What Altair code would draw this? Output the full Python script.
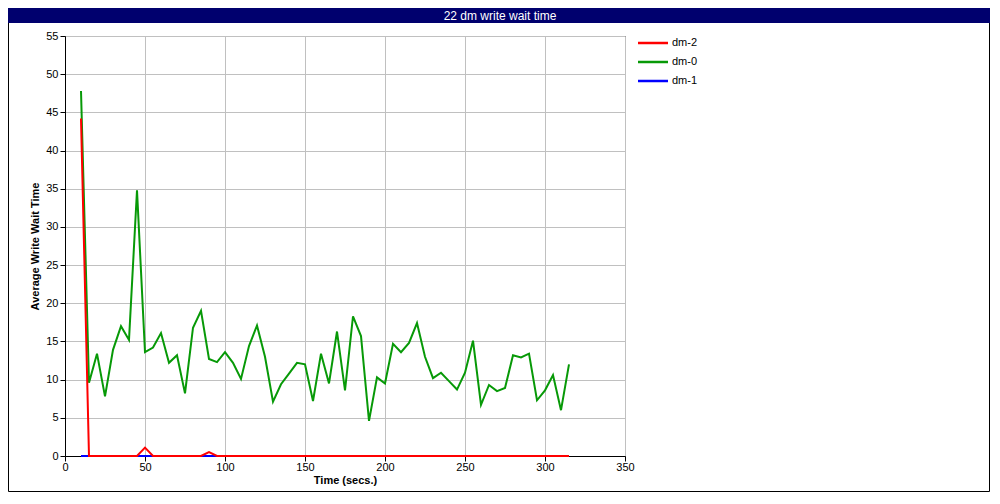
import altair as alt
import pandas as pd

times = [10, 15, 20, 25, 30, 35, 40, 45, 50, 55, 60, 65, 70, 75, 80, 85, 90, 95,
         100, 105, 110, 115, 120, 125, 130, 135, 140, 145, 150, 155, 160, 165,
         170, 175, 180, 185, 190, 195, 200, 205, 210, 215, 220, 225, 230, 235,
         240, 245, 250, 255, 260, 265, 270, 275, 280, 285, 290, 295, 300, 305,
         310, 315]

dm0 = [47.8, 9.6, 13.4, 7.8, 13.9, 17.0, 15.2, 34.8, 13.6, 14.2, 16.1, 12.2,
       13.2, 8.2, 16.8, 19.0, 12.7, 12.3, 13.6, 12.2, 10.1, 14.4, 17.1, 13.0,
       7.1, 9.4, 10.8, 12.2, 12.0, 7.2, 13.4, 9.5, 16.3, 8.6, 18.3, 15.7,
       4.6, 10.3, 9.5, 14.7, 13.6, 14.8, 17.4, 13.0, 10.2, 10.9, 9.8, 8.7,
       10.9, 15.1, 6.7, 9.3, 8.5, 8.9, 13.2, 12.9, 13.4, 7.3, 8.6, 10.6,
       6.0, 12.0]

dm2 = [44.2, 0, 0, 0, 0, 0, 0, 0, 1.1, 0, 0, 0, 0, 0, 0, 0, 0.5, 0,
       0, 0, 0, 0, 0, 0, 0, 0, 0, 0, 0, 0, 0, 0, 0, 0, 0, 0,
       0, 0, 0, 0, 0, 0, 0, 0, 0, 0, 0, 0, 0, 0, 0, 0, 0, 0,
       0, 0, 0, 0, 0, 0, 0, 0]

dm1 = [0, 0, 0, 0, 0, 0, 0, 0, 0, 0, 0, 0, 0, 0, 0, 0, 0, 0,
       0, 0, 0, 0, 0, 0, 0, 0, 0, 0, 0, 0, 0, 0, 0, 0, 0, 0,
       0, 0, 0, 0, 0, 0, 0, 0, 0, 0, 0, 0, 0, 0, 0, 0, 0, 0,
       0, 0, 0, 0, 0, 0, 0, 0]

series_order = ["dm-2", "dm-0", "dm-1"]
series_colors = ["#ff0000", "#079907", "#0000ff"]
x_ticks = [0, 50, 100, 150, 200, 250, 300, 350]
y_ticks = [0, 5, 10, 15, 20, 25, 30, 35, 40, 45, 50, 55]
chart_title = "22 dm write wait time"

rows = []
for name, vals in [("dm-1", dm1), ("dm-0", dm0), ("dm-2", dm2)]:
    for t, v in zip(times, vals):
        rows.append({"time": t, "value": v, "series": name})
df = pd.DataFrame(rows)

FONT = "Liberation Sans"
color_scale = alt.Scale(domain=series_order, range=series_colors)

lines = alt.Chart(df).mark_line(strokeWidth=2).encode(
    x=alt.X("time:Q", scale=alt.Scale(domain=[0, 350], nice=False),
            axis=alt.Axis(values=x_ticks, title="Time (secs.)", titlePadding=2,
                          labelPadding=0, labelFlush=False)),
    y=alt.Y("value:Q", scale=alt.Scale(domain=[0, 55], nice=False),
            axis=alt.Axis(values=y_ticks, title="Average Write Wait Time",
                          titlePadding=5, labelPadding=2, labelFlush=False)),
    color=alt.Color("series:N", scale=color_scale, legend=None),
)

# legend built from the series names through a point scale
legend_df = pd.DataFrame({"series": series_order})
leg_y = alt.Y("series:N", scale=alt.Scale(type="point", domain=series_order,
                                          range=[7, 45], padding=0), axis=None)
leg_rules = alt.Chart(legend_df).mark_rule(strokeWidth=2.5).encode(
    x=alt.value(573), x2=alt.value(603), y=leg_y,
    color=alt.Color("series:N", scale=color_scale, legend=None),
)
leg_text = alt.Chart(legend_df).mark_text(
    align="left", baseline="middle", font=FONT, fontSize=11, color="black"
).encode(x=alt.value(607), y=leg_y, text="series:N")

one = pd.DataFrame({"a": [0]})
frame = alt.Chart(one).mark_rect(filled=False, stroke="black", strokeWidth=1).encode(
    x=alt.value(-56.5), x2=alt.value(924.5), y=alt.value(-27.5), y2=alt.value(455.5)
)
bar = alt.Chart(one).mark_rect(color="#00006e").encode(
    x=alt.value(-57), x2=alt.value(925), y=alt.value(-28), y2=alt.value(-13)
)
title_text = alt.Chart(one).mark_text(
    text=chart_title, color="white", font=FONT, fontSize=12, baseline="middle",
    align="center"
).encode(x=alt.value(435), y=alt.value(-20.5))

chart = alt.layer(frame, bar, title_text, lines, leg_rules, leg_text).resolve_scale(
    y="independent"
).properties(
    width=560, height=420,
    autosize=alt.AutoSizeParams(type="none"),
    padding={"left": 57, "top": 28, "right": 365, "bottom": 36},
).configure_view(
    stroke="black", strokeWidth=1
).configure_axis(
    domainColor="black", tickColor="black", labelColor="black", titleColor="black",
    gridColor="#c0c0c0", labelFont=FONT, titleFont=FONT, labelFontSize=11,
    titleFontSize=11, titleFontWeight="bold", tickSize=5
)

chart.save("out.html", embed_options={"renderer": "svg", "actions": False})
